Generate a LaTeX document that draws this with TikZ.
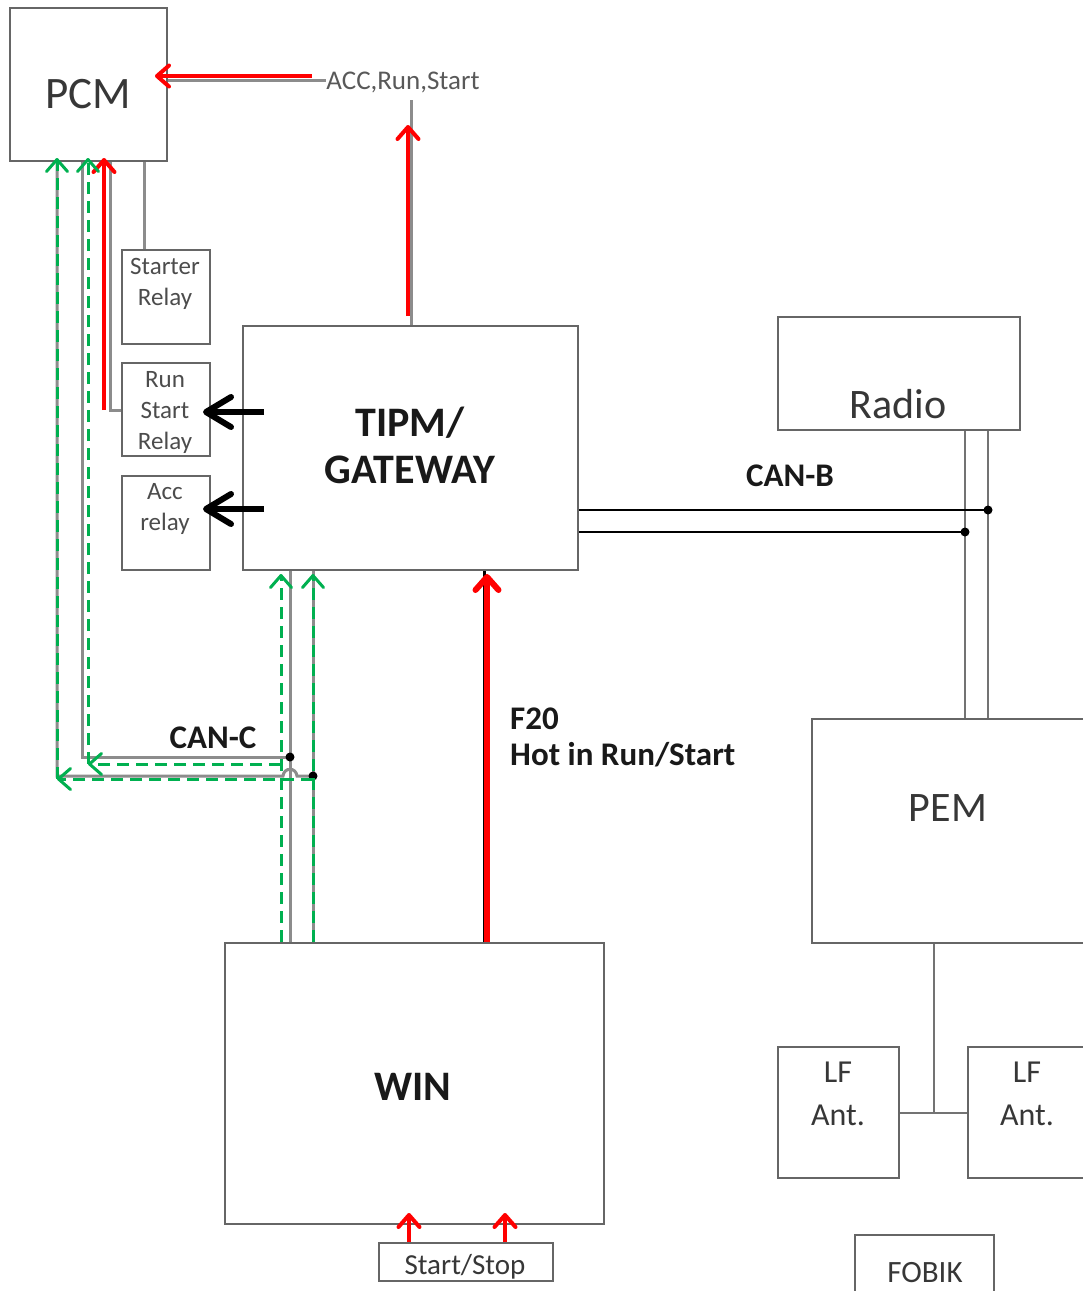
\documentclass[tikz,border=0pt]{standalone}
\usepackage{fontspec}
\setmainfont{Carlito}
\usetikzlibrary{arrows.meta,calc}
\definecolor{grn}{RGB}{0,176,80}
\definecolor{txt}{RGB}{55,55,55}
\definecolor{btxt}{RGB}{25,25,25}
\begin{document}
\begin{tikzpicture}[x=1pt,y=-1pt,
  box/.style={draw=black!60,line width=2.2pt,inner sep=0pt},
  wire/.style={draw=black!45,line width=3pt},
  blkwire/.style={draw=black,line width=2pt},
  redarr/.style={draw=red,line width=4pt,-{Straight Barb[length=12pt,width=21pt,round]}},
  bigred/.style={draw=red,line width=6pt,-{Straight Barb[length=13pt,width=23pt,round]}},
  blkarr/.style={draw=black,line width=6pt,-{Straight Barb[length=25pt,width=30pt,round]}},
  grarr/.style={draw=grn,line width=3pt,dash pattern=on 12pt off 7pt,-{Straight Barb[length=12pt,width=21pt,round]}},
  lbl/.style={text=txt,inner sep=0pt,align=center},
  blbl/.style={text=btxt,inner sep=0pt,align=center,font=\bfseries\fontsize{33}{36}\selectfont},
  dot/.style={fill=black}
]
\useasboundingbox (0,0) rectangle (1083,1291);
\clip (0,0) rectangle (1083,1291);

% ---------- boxes ----------
\node[box,minimum width=157pt,minimum height=153pt] (pcm) at (88.5,84.5) {};
\node[box,minimum width=88pt,minimum height=94pt] (starter) at (166,297) {};
\node[box,minimum width=88pt,minimum height=93pt] (runrel) at (166,409.5) {};
\node[box,minimum width=88pt,minimum height=94pt] (accrel) at (166,523) {};
\node[box,minimum width=335pt,minimum height=244pt] (tipm) at (410.5,448) {};
\node[box,minimum width=242pt,minimum height=113pt] (radio) at (899,373.5) {};
\node[box,minimum width=300pt,minimum height=224pt] (pem) at (962,831) {};
\node[box,minimum width=379pt,minimum height=281pt] (win) at (414.5,1083.5) {};
\node[box,minimum width=174pt,minimum height=38pt] (ss) at (466,1262) {};
\node[box,minimum width=121pt,minimum height=131pt] (lf1) at (838.5,1112.5) {};
\node[box,minimum width=140pt,minimum height=131pt] (lf2) at (1038,1112.5) {};
\node[box,minimum width=139pt,minimum height=90pt] (fob) at (924.5,1280) {};

% ---------- texts ----------
\node[lbl,anchor=base,font=\fontsize{45}{48}\selectfont] (pcmT) at (88,108) {PCM};
\node[lbl,anchor=base,font=\fontsize{27}{30}\selectfont,text=black!65] (acc) at (403,89) {ACC,Run,Start};
\node[lbl,font=\fontsize{25}{31}\selectfont,text=black!70] (starterT) at (165,284) {Starter\\Relay};
\node[lbl,font=\fontsize{25}{31}\selectfont,text=black!70] (runT) at (165,412) {Run\\Start\\Relay};
\node[lbl,font=\fontsize{25}{31}\selectfont,text=black!70] (accT) at (165,509) {Acc\\relay};
\node[blbl,font=\bfseries\fontsize{42}{47}\selectfont] (tipmT) at (410,445) {TIPM/\\GATEWAY};
\node[blbl,anchor=base] (canb) at (790,486) {CAN-B};
\node[blbl,anchor=base] (canc) at (213,748) {CAN-C};
\node[blbl,anchor=west,align=left] (f20) at (510,737) {F20\\Hot in Run/Start};
\node[lbl,anchor=base,font=\fontsize{42}{46}\selectfont] (radioT) at (898,418) {Radio};
\node[lbl,anchor=base,font=\fontsize{42}{46}\selectfont] (pemT) at (948,821) {PEM};
\node[blbl,anchor=base,font=\bfseries\fontsize{42}{46}\selectfont] (winT) at (413,1100) {WIN};
\node[lbl,font=\fontsize{32}{43}\selectfont] (lf1T) at (838,1094) {LF\\Ant.};
\node[lbl,font=\fontsize{32}{43}\selectfont] (lf2T) at (1027,1094) {LF\\Ant.};
\node[lbl,anchor=base,font=\fontsize{29}{32}\selectfont] (ssT) at (465,1274) {Start/Stop};
\node[lbl,anchor=base,font=\fontsize{31}{34}\selectfont] (fobT) at (925,1282) {FOBIK};

% ---------- junction coordinates ----------
\coordinate (j1) at (290,757);
\coordinate (j2) at (313,776);
\coordinate (b1) at (988,510);
\coordinate (b2) at (965,532);
\coordinate (g1) at (57,779);
\coordinate (g2) at (88,764);
\coordinate (g3) at (281,764);
\coordinate (g4) at (313,779);
\coordinate (lfj) at (934,1113);

% ---------- gray wires ----------
\draw[wire] (pcm.east |- 0,80) -- (acc.west |- 0,80);
\draw[wire] (411,100) -- (411,0 |- tipm.north);
\draw[wire] (144,0 |- pcm.south) -- (144,0 |- starter.north);
\draw[wire] (110,0 |- pcm.south) -- (110,410) -- (runrel.west |- 0,410);
\draw[wire] (82,0 |- pcm.south) -- (82,757) -- (j1);
\draw[wire] (57,0 |- pcm.south) -- (57,776) -- (283,776)
   .. controls (284,767) and (296,767) .. (297,776) -- (j2);
\draw[wire] (290,0 |- tipm.south) -- (290,0 |- win.north);
\draw[wire] (313,0 |- tipm.south) -- (313,0 |- win.north);
\draw[wire,line width=2.2pt,draw=black!55] (965,0 |- radio.south) -- (965,0 |- pem.north);
\draw[wire,line width=2.2pt,draw=black!55] (988,0 |- radio.south) -- (988,0 |- pem.north);
\draw[wire,line width=2.2pt,draw=black!55] (934,0 |- pem.south) -- (lfj);
\draw[wire,line width=2.2pt,draw=black!55] (lf1.east |- lfj) -- (lf2.west |- lfj);

% ---------- black wires ----------
\draw[blkwire] (tipm.east |- b1) -- (b1);
\draw[blkwire] (tipm.east |- b2) -- (b2);
\draw[blkwire,line width=3pt] (484,0 |- tipm.south) -- (484,0 |- win.north);
\fill[dot] (b1) circle[radius=4.5pt];
\fill[dot] (b2) circle[radius=4.5pt];
\fill[dot] (j1) circle[radius=4.5pt];
\fill[dot] (j2) circle[radius=4.5pt];

% ---------- red arrows ----------
\draw[redarr] (312,76) -- (155,76);
\draw[redarr] (408,316) -- (408,125);
\draw[redarr] (104,410) -- (104,158);
\draw[bigred] (487,0 |- win.north) -- (487,574);
\draw[redarr] (409,0 |- ss.north) -- (409,1213);
\draw[redarr] (505,0 |- ss.north) -- (505,1213);

% ---------- black arrows ----------
\draw[blkarr] (264,412) -- (203,412);
\draw[blkarr] (264,509) -- (203,509);

% ---------- green dashed arrows ----------
\draw[grarr] (g4) -- (g1);
\draw[grarr] (g1) -- (57,158);
\draw[grarr] (g3) -- (g2);
\draw[grarr] (g2) -- (88,158);
\draw[grarr] (281,0 |- win.north) -- (281,574);
\draw[grarr] (313,0 |- win.north) -- (313,574);
\end{tikzpicture}
\end{document}
